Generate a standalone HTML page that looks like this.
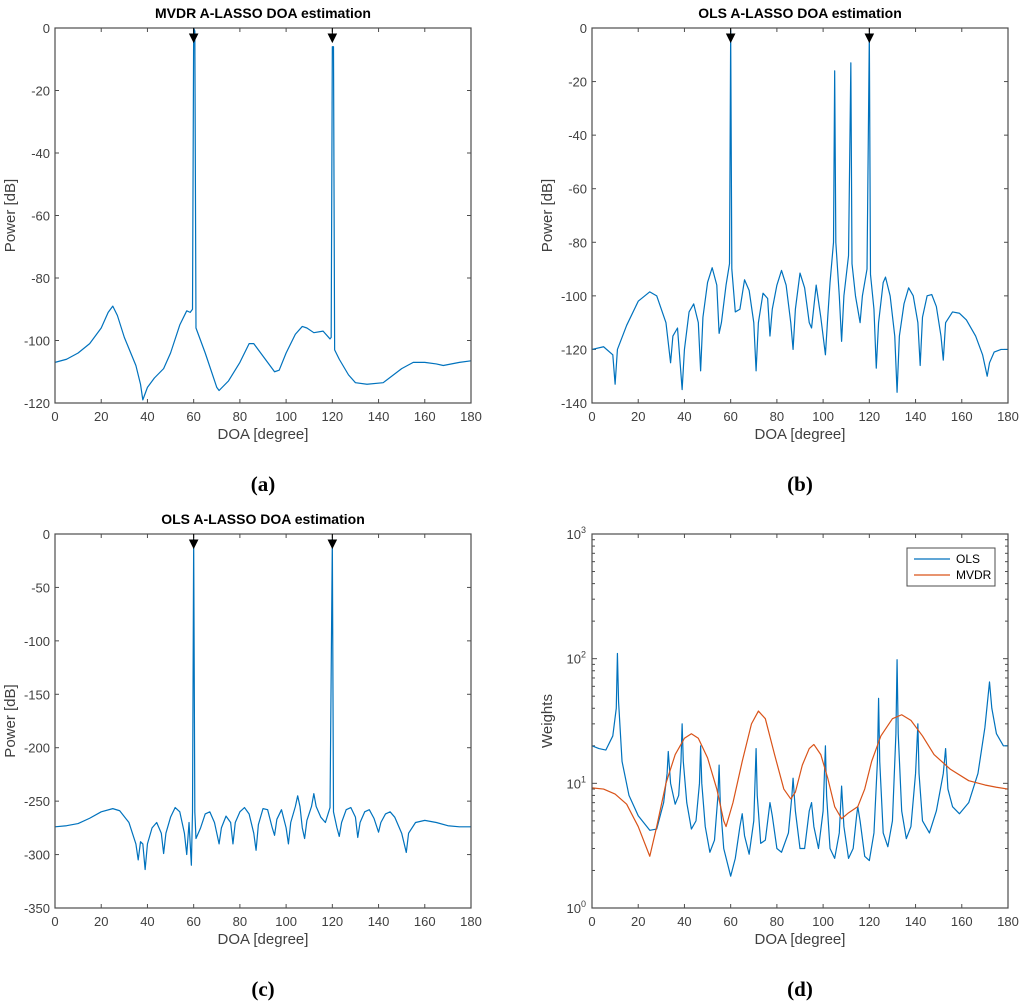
<!DOCTYPE html>
<html><head><meta charset="utf-8">
<style>
body{margin:0;background:#fff;width:1024px;height:1006px;overflow:hidden;}
svg{display:block;font-family:"Liberation Sans",Arial,sans-serif;}
</style></head>
<body>
<svg id="fig" width="1024" height="1006" viewBox="0 0 1024 1006" xmlns="http://www.w3.org/2000/svg"></svg>
<script>
// ---- data ----
const aX=[0,5,10,15,20,23,25,27,30,35,37,38,40,43,47,50,54,57,58.5,59.5,60,60.5,61,65,70,71,75,80,84,86,90,95,97,100,104,107,109,112,116,119,119.5,120,120.5,121,123,127,130,135,142,150,155,160,165,168,175,180];
const aY=[-107,-106,-104,-101,-96,-91,-89,-92,-99,-108,-114,-119,-115,-112,-109,-104,-95,-90.5,-91,-90,0,-1,-96,-104,-115,-116,-113,-107,-101,-101,-105,-110,-109.5,-104,-98,-95.5,-96,-97.5,-97,-99.5,-99,-6,-6,-103,-106,-111,-113.5,-114,-113.5,-109,-107,-107,-107.5,-108,-107,-106.5];
const bX=[0,5,9,10,11,15,20,25,28,32,34,35,37,39,40,42,44,46,47,48,50,52,54,55,56,58,59.5,60,60.5,62,64,66,68,70,71,72,74,76,77,78,80,82,84,86,87,88,90,92,94,95,97,99,101,102,103,104.5,105,105.5,107,108,109,111,112,112.5,114,116,117,119,120,120.5,122,123,124,126,127,129,131,132,133,135,137,139,141,142,143,145,147,149,151,152,153,156,159,162,166,169,171,172,174,177,180];
const bY=[-120,-119,-122,-133,-120,-111,-102,-98.5,-100,-110,-125,-115,-112,-135,-120,-106,-103,-110,-128,-108,-95,-89.5,-96,-114,-110,-96,-88,-1,-90,-106,-105,-94,-98,-110,-128,-110,-99,-101,-115,-105,-96,-90.5,-96,-110,-120,-105,-91.5,-97,-110,-112,-96,-108,-122,-108,-95,-80,-16,-80,-100,-117,-100,-85,-13,-88,-100,-110,-100,-90,-2,-92,-105,-127,-110,-95,-93,-100,-115,-136,-115,-103,-97,-100,-110,-126,-108,-100,-99.5,-104,-115,-124,-110,-106,-106.5,-109,-115,-122,-130,-125,-121,-120,-120];
const cX=[0,5,10,15,20,25,28,32,35,36,37,38,39,40,42,44,46,47,48,50,52,54,56,57,58,59,59.5,60,60.5,61,63,65,67,69,71,72,74,76,77,78,80,82,84,86,87,88,90,92,94,95,96,98,100,101,102,104,105,106,107,108,109,111,112,113,115,117,119,120,120.5,122,123,124,126,128,130,131,132,134,136,138,140,141,143,145,147,150,152,153,156,160,165,170,175,180];
const cY=[-274,-273,-271,-266,-260,-257,-259,-270,-290,-305,-288,-290,-314,-290,-275,-270,-280,-299,-280,-265,-256,-260,-280,-300,-270,-310,-260,-5,-260,-285,-275,-262,-260,-270,-290,-275,-264,-270,-290,-270,-260,-256,-262,-280,-296,-272,-257,-258,-275,-282,-267,-258,-275,-290,-270,-255,-245,-255,-275,-285,-268,-255,-243,-255,-265,-270,-256,-5,-260,-275,-283,-270,-258,-256,-265,-284,-270,-260,-258,-266,-279,-270,-262,-260,-265,-280,-298,-280,-270,-268,-270,-273,-274,-274];
const dX=[0,3,6,9,10.5,11,11.5,13,16,20,25,28,31,32.5,33,34,36,37.5,38.5,39,39.5,41,43,45,46.5,47,47.5,49,51,53,54.5,55,55.5,57,60,62,64,65,66,68,70,71,71.5,73,75,77,78,80,82,85,86.5,87,88,90,92,94,95,96,98,100,101,101.5,103,105,107,108,109,111,113,114.5,115,116,118,120,122,123.5,124,124.5,126,128,130,131.5,132,132.5,134,136,138,140,141,141.5,143,146,149,152,153,154,156,159,163,167,170,172,173,175,178,180];
const dOls=[20,19,18.5,24,40,110,45,15,8,5.5,4.2,4.3,7,12,18,10,6.8,8,15,30,15,7,4.3,5,10,20,10,4.5,2.8,3.5,8,14,7,3,1.8,2.5,4.5,5.7,3.8,2.7,5,19,8,3.3,3.5,7,5.5,3,2.8,4,8,11,6,3,3,6,7,4.5,3,6,20,8,3,2.5,4,9.5,4.5,2.5,3,5.5,6.5,5,2.6,2.4,4,15,48,15,4,3.1,5,25,98,25,6,3.6,4.5,12,30,12,5,4,6,12,19,9,6.5,5.7,7,12,28,65,40,25,20,20];
const mvdrX=[0,5,10,15,20,25,28,32,36,40,43,46,50,54,57,58,61,65,69,72,75,79,83,86,88,91,94,96,99,102,105,108,111,115,118,121,125,130,134,138,143,148,155,163,170,175,180];
const dMvdr=[9.2,9,8.2,6.8,4.5,2.6,4.5,10,17,23,25,23,16,9,5,4.5,7,15,30,38,33,17,9,7.5,8.5,14,19,20.5,17,11,6.5,5.2,5.8,6.5,9,15,24,33,35.5,32,24,17,13,10.5,9.7,9.3,9];
const xTicks=[0,20,40,60,80,100,120,140,160,180];
const aTicks=[0,-20,-40,-60,-80,-100,-120];
const bTicks=[0,-20,-40,-60,-80,-100,-120,-140];
const cTicks=[0,-50,-100,-150,-200,-250,-300,-350];
const dExp=[0,1,2,3];
const arrowsAt=[60,120];

const NS='http://www.w3.org/2000/svg';
const svg=document.getElementById('fig');
function el(tag,attrs,parent,text){const e=document.createElementNS(NS,tag);for(const k in attrs)e.setAttribute(k,attrs[k]);if(text!==undefined)e.textContent=text;(parent||svg).appendChild(e);return e;}
const BLUE='#0072BD',ORANGE='#D95319',AX='#4d4d4d',TXT='#404040';

function panel(opt){
  const g=el('g',{});
  
  
  const L=opt.L,R=opt.R,T=opt.T,B=opt.B;
  const sx=v=>L+(v-0)/180*(R-L);
  const sy=opt.log?(v=>B-(Math.log10(v)-opt.y0)/(opt.y1-opt.y0)*(B-T)):(v=>B-(v-opt.y0)/(opt.y1-opt.y0)*(B-T));
  // x ticks
  xTicks.forEach(t=>{
    const x=sx(t);
    el('line',{x1:x,y1:B,x2:x,y2:B-4,stroke:AX,'stroke-width':1},g);
    el('line',{x1:x,y1:T,x2:x,y2:T+4,stroke:AX,'stroke-width':1},g);
    const lb=el('text',{x:x,y:B+18,'text-anchor':'middle','font-size':13,fill:TXT},g,String(t));
    
    
  });
  if(opt.log){
    dExp.forEach(e=>{
      const y=sy(Math.pow(10,e));
      el('line',{x1:L,y1:y,x2:L+5,y2:y,stroke:AX},g);
      el('line',{x1:R,y1:y,x2:R-5,y2:y,stroke:AX},g);
      const t=el('text',{x:L-6,y:y+5,'text-anchor':'end','font-size':13,fill:TXT},g,'10');
      
      
      el('tspan',{dy:-6,'font-size':9},t,String(e));
      if(e<3){for(let m=2;m<10;m++){const ym=sy(m*Math.pow(10,e));
        el('line',{x1:L,y1:ym,x2:L+3,y2:ym,stroke:AX},g);
        el('line',{x1:R,y1:ym,x2:R-3,y2:ym,stroke:AX},g);}}
    });
  } else {
    opt.ticks.forEach(t=>{
      const y=sy(t);
      el('line',{x1:L,y1:y,x2:L+4,y2:y,stroke:AX},g);
      el('line',{x1:R,y1:y,x2:R-4,y2:y,stroke:AX},g);
      const lb=el('text',{x:L-5,y:y+5,'text-anchor':'end','font-size':13,fill:TXT},g,String(t));
      
      
    });
  }
  // series
  opt.series.forEach(s=>{
    const d=s.x.map((v,i)=>(i?'L':'M')+sx(v).toFixed(2)+' '+sy(s.y[i]).toFixed(2)).join(' ');
    const p=el('path',{d:d,fill:'none',stroke:s.color,'stroke-width':1.2,'stroke-linejoin':'round'},g);
    
    
  });
  // box
  el('rect',{x:L,y:T,width:R-L,height:B-T,fill:'none',stroke:AX,'stroke-width':1.2},g);
  if(opt.arrows){
    arrowsAt.forEach(a=>{
      const x=sx(a);
      const ar=el('path',{d:`M${x} ${T} L${x} ${T+6} M${x-4} ${T+6} L${x+4} ${T+6} L${x} ${T+14} Z`,stroke:'#000',fill:'#000','stroke-width':1},g);
      
      
    });
  }
  if(opt.title){
    const tt=el('text',{x:(L+R)/2,y:T-10,'text-anchor':'middle','font-size':14,'font-weight':'bold',fill:'#000'},g,opt.title);
    
    
  }
  const xl=el('text',{x:(L+R)/2,y:B+36,'text-anchor':'middle','font-size':15,fill:TXT},g,'DOA [degree]');
  
  
  const yx=L-40, yy=(T+B)/2;
  const yl=el('text',{x:yx,y:yy,'text-anchor':'middle','font-size':15,fill:TXT,transform:`rotate(-90 ${yx} ${yy})`},g,opt.ylabel);
  
  
  const cap=el('text',{x:(L+R)/2,y:opt.capY,'text-anchor':'middle','font-size':21,'font-weight':'bold','font-family':'"Liberation Serif",serif',fill:'#000'},g,opt.cap);
  
  
  return {g,L,R,T,B};
}

panel({name:'panel-a',L:55,R:471,T:28,B:403,y0:-120,y1:0,ticks:aTicks,title:'MVDR  A-LASSO DOA estimation',ylabel:'Power [dB]',cap:'(a)',capY:491,arrows:true,
  series:[{x:aX,y:aY,color:BLUE,name:'mvdr-spectrum-line'}]});
panel({name:'panel-b',L:592,R:1008,T:28,B:403,y0:-140,y1:0,ticks:bTicks,title:'OLS A-LASSO DOA estimation',ylabel:'Power [dB]',cap:'(b)',capY:491,arrows:true,
  series:[{x:bX,y:bY,color:BLUE,name:'ols-spectrum-line'}]});
panel({name:'panel-c',L:55,R:471,T:534,B:908,y0:-350,y1:0,ticks:cTicks,title:'OLS A-LASSO DOA estimation',ylabel:'Power [dB]',cap:'(c)',capY:996,arrows:true,
  series:[{x:cX,y:cY,color:BLUE,name:'ols-spectrum-line'}]});
const pd=panel({name:'panel-d',L:592,R:1008,T:534,B:908,log:true,y0:0,y1:3,ylabel:'Weights',cap:'(d)',capY:996,arrows:false,
  series:[{x:dX,y:dOls,color:BLUE,name:'ols-weights-line'},{x:mvdrX,y:dMvdr,color:ORANGE,name:'mvdr-weights-line'}]});
// legend
const lg=el('g',{});


el('rect',{x:907,y:548,width:88,height:38,fill:'#fff',stroke:AX,'stroke-width':1},lg);
el('line',{x1:914,y1:559,x2:950,y2:559,stroke:BLUE,'stroke-width':1.2},lg);
el('line',{x1:914,y1:575,x2:950,y2:575,stroke:ORANGE,'stroke-width':1.2},lg);
const l1=el('text',{x:956,y:563,'font-size':12,fill:'#000'},lg,'OLS');


const l2=el('text',{x:956,y:579,'font-size':12,fill:'#000'},lg,'MVDR');


</script>
</body></html>
